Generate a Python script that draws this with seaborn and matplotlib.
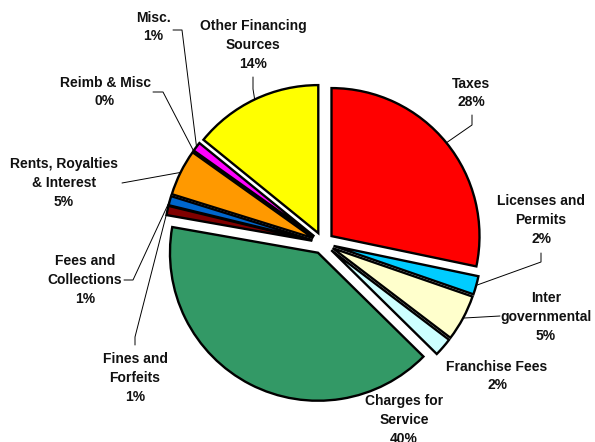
import numpy as np
import matplotlib
matplotlib.use("Agg")
import matplotlib.pyplot as plt
import seaborn as sns

# Revenue sources, clockwise from 12 o'clock
categories = [
    "Taxes",
    "Licenses and\nPermits",
    "Inter\ngovernmental",
    "Franchise Fees",
    "Charges for\nService",
    "Fines and\nForfeits",
    "Fees and\nCollections",
    "Rents, Royalties\n& Interest",
    "Reimb & Misc",
    "Misc.",
    "Other Financing\nSources",
]
shares = [28, 2, 5, 2, 40, 1, 1, 5, 0, 1, 14]
colors = [
    "#FF0000", "#00CCFF", "#FFFFCC", "#CCFFFF", "#339966", "#800000",
    "#0066CC", "#FF9900", "#9999FF", "#FF00FF", "#FFFF00",
]

sns.set_style("white")
plt.rcParams["font.family"] = ["Liberation Sans", "DejaVu Sans"]

# canvas layout in pixels
W, H = 595, 442
CX, CY, R = 323, 243, 148


def P(x, y):
    """pixel position -> pie data coordinates (unit radius)"""
    return ((x - CX) / R, (CY - y) / R)


# label centres and leader-line stubs (pixel positions)
label_pos = [
    (471, 93), (541, 220), (546, 317), (497, 376), (404, 420),
    (135, 378), (85, 280), (64, 183), (105, 92), (153, 27), (253, 45),
]
leaders = [
    [(472, 115), (472, 125)],
    [(541, 253), (541, 262)],
    [(500, 316)],
    None,
    None,
    [(135, 345), (135, 337)],
    [(124, 280), (133, 280)],
    [(122, 183)],
    [(153, 92), (163, 92)],
    [(173, 30), (182, 30)],
    [(253, 77), (253, 89)],
]

fig = plt.figure(figsize=(W / 100, H / 100), dpi=100)
ax = fig.add_axes([0, 0, 1, 1])

wedges, _ = ax.pie(
    shares,
    colors=colors,
    startangle=90,
    counterclock=False,
    explode=[0.074] * len(shares),
    radius=1.0,
    wedgeprops=dict(edgecolor="black", linewidth=1.7),
)
ax.set_xlim(-CX / R, (W - CX) / R)
ax.set_ylim(-(H - CY) / R, CY / R)
ax.set_aspect("equal")
ax.axis("off")

for i, (w, cat, val) in enumerate(zip(wedges, categories, shares)):
    tx, ty = P(*label_pos[i])
    ax.text(tx, ty, f"{cat}\n{val}%", ha="center", va="center",
            fontsize=10, fontweight="bold", color="#111111",
            linespacing=1.45, zorder=5)
    if leaders[i] is not None:
        th = np.deg2rad((w.theta1 + w.theta2) / 2)
        cx, cy = w.center
        end = (cx + w.r * np.cos(th), cy + w.r * np.sin(th))
        pts = [P(*p) for p in leaders[i]] + [end]
        xs, ys = zip(*pts)
        ax.plot(xs, ys, color="black", lw=0.7, zorder=4)

fig.savefig("out.png", dpi=100, facecolor="white")
